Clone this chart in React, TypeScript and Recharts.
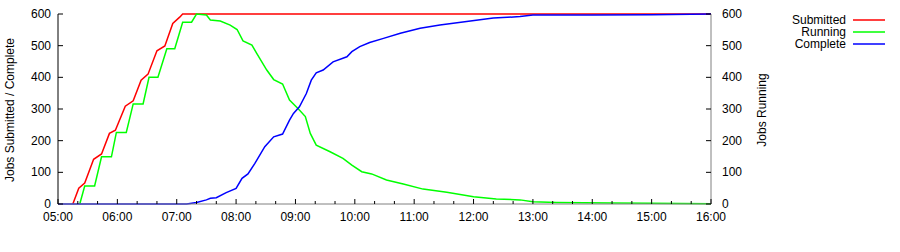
import React from 'react'
import { LineChart, Line, XAxis, YAxis } from 'recharts'

// minutes after 05:00
const hourTicks = [0, 60, 120, 180, 240, 300, 360, 420, 480, 540, 600, 660]
const hourLabels = ['05:00', '06:00', '07:00', '08:00', '09:00', '10:00', '11:00', '12:00', '13:00', '14:00', '15:00', '16:00']
const yTicks = [0, 100, 200, 300, 400, 500, 600]

const submittedT = [15, 21, 27, 36, 44, 52, 58, 68, 76, 84, 91, 100, 108, 116, 123, 126, 660]
const submittedV = [0, 50, 66, 141, 158, 223, 233, 309, 326, 391, 410, 484, 499, 570, 590, 600, 600]

const runningT = [22, 27, 37, 44, 54, 59, 69, 76, 86, 92, 101, 110, 118, 126, 135, 140, 150, 154, 164, 174, 181, 187, 196, 201, 211, 218, 227, 234, 243, 250, 255, 261, 275, 288, 297, 307, 317, 332, 349, 369, 393, 420, 443, 467, 480, 504, 560, 600, 660]
const runningV = [0, 57, 57, 149, 149, 226, 226, 316, 316, 400, 400, 490, 490, 574, 574, 600, 597, 581, 578, 565, 551, 515, 502, 475, 423, 393, 379, 328, 300, 276, 223, 186, 165, 144, 123, 102, 95, 76, 63, 47, 37, 23, 16, 13, 7, 5, 3, 2, 1]

const completeT = [0, 130, 140, 150, 154, 160, 170, 180, 186, 192, 199, 209, 218, 227, 234, 238, 244, 251, 256, 261, 268, 278, 292, 297, 305, 315, 329, 346, 366, 386, 413, 440, 467, 480, 540, 600, 660]
const completeV = [0, 0, 5, 13, 18, 20, 36, 49, 81, 95, 128, 181, 212, 221, 265, 286, 307, 349, 391, 414, 423, 449, 465, 481, 497, 510, 523, 539, 555, 565, 576, 587, 592, 597, 597, 598, 600]

const toPoints = (ts: number[], vs: number[]) => ts.map((t, i) => ({ t, v: vs[i] }))
const submittedData = toPoints(submittedT, submittedV)
const runningData = toPoints(runningT, runningV)
const completeData = toPoints(completeT, completeV)

const minorTicks: number[] = []
for (let m = 0; m <= 660; m += 20) minorTicks.push(m)

const font = '"Liberation Sans", Arial, sans-serif'
const textStyle = { fontFamily: font, fontSize: 12, fill: '#000' }

const series = [
  { name: 'Submitted', color: '#ff0000' },
  { name: 'Running', color: '#00ff00' },
  { name: 'Complete', color: '#0000ff' },
]

function BottomTick({ x, y, payload }: any) {
  const i = hourTicks.indexOf(payload.value)
  const major = i >= 0
  return (
    <g>
      <line x1={x} x2={x} y1={y} y2={y - (major ? 5 : 3)} stroke="#000" />
      {major && (
        <text x={x} y={y + 17} textAnchor="middle" {...textStyle}>
          {hourLabels[i]}
        </text>
      )}
    </g>
  )
}

function TopTick({ x, y, payload }: any) {
  const major = hourTicks.includes(payload.value)
  return <line x1={x} x2={x} y1={y} y2={y + (major ? 5 : 3)} stroke="#000" />
}

function LeftTick({ x, y, payload }: any) {
  return (
    <g>
      <line x1={x} x2={x + 5} y1={y} y2={y} stroke="#000" />
      <text x={x - 7} y={y + 4} textAnchor="end" {...textStyle}>
        {payload.value}
      </text>
    </g>
  )
}

function RightTick({ x, y, payload }: any) {
  return (
    <g>
      <line x1={x} x2={x - 5} y1={y} y2={y} stroke="#000" />
      <text x={x + 11} y={y + 4} textAnchor="start" {...textStyle}>
        {payload.value}
      </text>
    </g>
  )
}

export default function App() {
  return (
    <div style={{ position: 'absolute', left: 0, top: 0, width: 900, height: 252, background: '#fff' }}>
      <LineChart width={900} height={252} margin={{ top: 14, right: 139, left: 8, bottom: 28 }}>
        <XAxis
          dataKey="t"
          type="number"
          domain={[0, 660]}
          ticks={minorTicks}
          allowDataOverflow
          height={20}
          tickSize={0}
          tickMargin={0}
          tickLine={false}
          axisLine={{ stroke: '#808080' }}
          tick={<BottomTick />}
          interval={0}
        />
        <XAxis
          xAxisId="top"
          orientation="top"
          dataKey="t"
          type="number"
          domain={[0, 660]}
          ticks={minorTicks}
          height={0}
          tickSize={0}
          tickMargin={0}
          tickLine={false}
          axisLine={{ stroke: '#000' }}
          tick={<TopTick />}
          interval={0}
        />
        <YAxis
          yAxisId="left"
          type="number"
          domain={[0, 600]}
          ticks={yTicks}
          width={50}
          tickSize={0}
          tickMargin={0}
          tickLine={false}
          axisLine={{ stroke: '#000' }}
          tick={<LeftTick />}
          interval={0}
        />
        <YAxis
          yAxisId="right"
          orientation="right"
          type="number"
          domain={[0, 600]}
          ticks={yTicks}
          width={50}
          tickSize={0}
          tickMargin={0}
          tickLine={false}
          axisLine={{ stroke: '#808080' }}
          tick={<RightTick />}
          interval={0}
        />
        <Line data={submittedData} dataKey="v" name="Submitted" yAxisId="left" type="linear" stroke="#ff0000" strokeWidth={1.5} dot={false} isAnimationActive={false} />
        <Line data={runningData} dataKey="v" name="Running" yAxisId="right" type="linear" stroke="#00ff00" strokeWidth={1.5} dot={false} isAnimationActive={false} />
        <Line data={completeData} dataKey="v" name="Complete" yAxisId="left" type="linear" stroke="#0000ff" strokeWidth={1.5} dot={false} isAnimationActive={false} />
      </LineChart>
      <svg width={900} height={252} style={{ position: 'absolute', left: 0, top: 0, pointerEvents: 'none' }}>
        <text x={14} y={110} transform="rotate(-90 14 110)" textAnchor="middle" {...textStyle}>
          Jobs Submitted / Complete
        </text>
        <text x={766} y={110} transform="rotate(-90 766 110)" textAnchor="middle" {...textStyle}>
          Jobs Running
        </text>
        {series.map((s, i) => (
          <g key={s.name}>
            <text x={846} y={24 + i * 12} textAnchor="end" {...textStyle}>
              {s.name}
            </text>
            <line x1={853} x2={885} y1={20 + i * 12} y2={20 + i * 12} stroke={s.color} strokeWidth={1.5} />
          </g>
        ))}
      </svg>
    </div>
  )
}
